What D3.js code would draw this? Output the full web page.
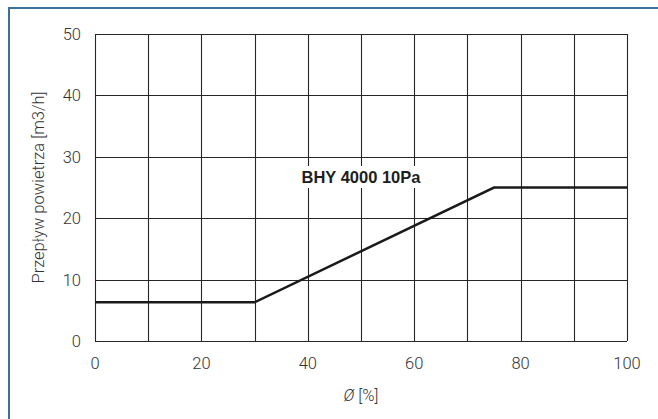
<!DOCTYPE html>
<html>
<head>
<meta charset="utf-8">
<script src="https://cdn.jsdelivr.net/npm/d3@7"></script>
<style>
  html, body { margin: 0; padding: 0; background: #fff; }
  svg { display: block; font-family: "Liberation Sans", Arial, sans-serif; }
  .lite { font-family: Roboto, "Liberation Sans", sans-serif; font-weight: 300; }
</style>
</head>
<body>
<svg id="chart" width="658" height="419"></svg>
<script>
// Chart data
const openingPct = [0, 30, 75, 100];
const airflow = [6.3, 6.3, 25, 25];
const xTicks = [0, 20, 40, 60, 80, 100];
const yTicks = [0, 10, 20, 30, 40, 50];
const xGrid = [0, 10, 20, 30, 40, 50, 60, 70, 80, 90, 100];
const seriesLabel = "BHY 4000 10Pa";

const svg = d3.select("#chart");
const margin = { left: 95, right: 31, top: 34, bottom: 78 };
const W = 658, H = 419;

const x = d3.scaleLinear().domain([0, 100]).range([margin.left, W - margin.right]);
const y = d3.scaleLinear().domain([0, 50]).range([H - margin.bottom, margin.top]);

// Frame lines (blue, top + left only)
svg.append("line").attr("x1", 8).attr("x2", W).attr("y1", 8).attr("y2", 8)
    .attr("stroke", "#3f6f9c").attr("stroke-width", 2);
svg.append("line").attr("x1", 9).attr("x2", 9).attr("y1", 7).attr("y2", H)
    .attr("stroke", "#3f6f9c").attr("stroke-width", 2);

const grid = svg.append("g").attr("stroke", "#262626").attr("stroke-width", 1.1);

grid.selectAll(".vx").data(xGrid).join("line")
    .attr("x1", d => Math.round(x(d)) + 0.5).attr("x2", d => Math.round(x(d)) + 0.5)
    .attr("y1", y(0)).attr("y2", y(50));

grid.selectAll(".hy").data(yTicks).join("line")
    .attr("x1", x(0)).attr("x2", x(100))
    .attr("y1", d => Math.round(y(d)) + 0.5).attr("y2", d => Math.round(y(d)) + 0.5);

// Tick labels
svg.append("g").attr("class", "lite").selectAll("text").data(xTicks).join("text")
    .attr("x", d => x(d)).attr("y", y(0) + 28)
    .attr("text-anchor", "middle").attr("font-size", 16.5).attr("fill", "#333")
    .text(d => d);

svg.append("g").attr("class", "lite").selectAll("text").data(yTicks).join("text")
    .attr("x", x(0) - 14).attr("y", d => y(d) + 6)
    .attr("text-anchor", "end").attr("font-size", 16.5).attr("fill", "#333")
    .text(d => d);

// Axis titles
svg.append("text").attr("class", "lite")
    .attr("transform", `translate(44, ${(y(0) + y(50)) / 2}) rotate(-90)`)
    .attr("text-anchor", "middle").attr("font-size", 16.5).attr("fill", "#333")
    .text("Przepływ powietrza [m3/h]");

const xt = svg.append("text").attr("class", "lite")
    .attr("x", (x(0) + x(100)) / 2).attr("y", 401)
    .attr("text-anchor", "middle").attr("font-size", 16.5).attr("fill", "#333");
xt.append("tspan").attr("font-style", "italic").text("Ø");
xt.append("tspan").text(" [%]");

// Series line
const line = d3.line().x(d => x(d[0])).y(d => y(d[1]));
svg.append("path")
    .datum(d3.zip(openingPct, airflow))
    .attr("d", line)
    .attr("fill", "none").attr("stroke", "#1a1a1a").attr("stroke-width", 2.5);

// Series label with white knock-out
const lbl = svg.append("g");
const lblText = lbl.append("text")
    .attr("x", x(50)).attr("y", 183)
    .attr("text-anchor", "middle").attr("font-size", 16.5).attr("font-weight", "bold")
    .attr("fill", "#1e1e1e")
    .text(seriesLabel);
const bb = lblText.node().getBBox();
lbl.insert("rect", "text")
    .attr("x", bb.x - 3).attr("y", bb.y - 2).attr("width", bb.width + 6).attr("height", bb.height + 4)
    .attr("fill", "#fff");
</script>
</body>
</html>
